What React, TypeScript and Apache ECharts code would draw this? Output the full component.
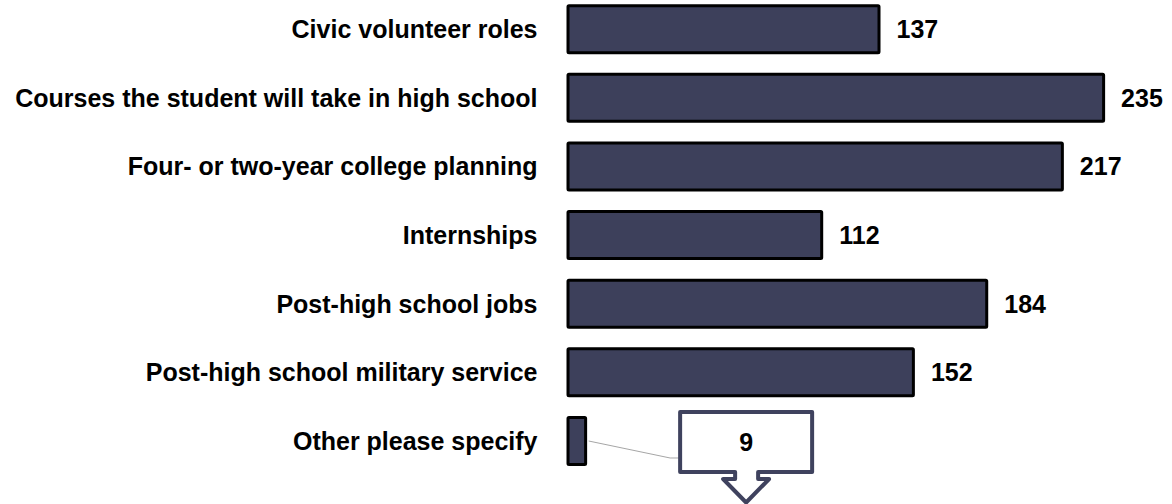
import React, { useEffect, useRef } from "react";
import * as echarts from "echarts";

const categories = [
  "Civic volunteer roles",
  "Courses the student will take in high school",
  "Four- or two-year college planning",
  "Internships",
  "Post-high school jobs",
  "Post-high school military service",
  "Other please specify",
];
const values = [137, 235, 217, 112, 184, 152, 9];
const calloutIndex = 6;

const FONT = "'Liberation Sans', Arial, sans-serif";

export default function App() {
  const ref = useRef<HTMLDivElement>(null);

  useEffect(() => {
    const chart = echarts.init(ref.current!, null, { renderer: "svg" });
    chart.setOption({
      animation: false,
      grid: { left: 566.5, right: 32.5, top: 0.9, bottom: 28.7, containLabel: false },
      xAxis: { type: "value", min: 0, max: 250, show: false },
      yAxis: {
        type: "category",
        data: categories,
        inverse: true,
        axisLine: { show: false },
        axisTick: { show: false },
        splitLine: { show: false },
        axisLabel: {
          margin: 29,
          color: "#000",
          fontSize: 25,
          fontWeight: "bold",
          fontFamily: FONT,
        },
      },
      series: [
        {
          type: "bar",
          barWidth: 50,
          data: values.map((v, i) => ({
            value: v,
            label: { show: i !== calloutIndex },
          })),
          itemStyle: {
            color: "#3d405b",
            borderColor: "#000",
            borderWidth: 3,
            borderRadius: 1,
          },
          label: {
            show: true,
            position: "right",
            distance: 16,
            color: "#000",
            fontSize: 25,
            fontWeight: "bold",
            fontFamily: FONT,
          },
        },
      ],
    });

    const p = chart.convertToPixel({ gridIndex: 0 }, [values[calloutIndex], calloutIndex]) as number[];
    const bx = p[0];
    const by = p[1];
    const stroke = "#3f425e";
    chart.setOption({
      graphic: [
        {
          type: "polyline",
          shape: {
            points: [
              [bx + 1.5, by],
              [bx + 83, by + 17],
              [bx + 93, by + 17],
            ],
          },
          style: { stroke: "#a6a6a6", lineWidth: 1, fill: null },
          z: 10,
        },
        {
          type: "polygon",
          shape: {
            points: [
              [bx + 93, by - 29],
              [bx + 225, by - 29],
              [bx + 225, by + 31],
              [bx + 171, by + 31],
              [bx + 171, by + 38],
              [bx + 182, by + 38],
              [bx + 159, by + 61.5],
              [bx + 136, by + 38],
              [bx + 148, by + 38],
              [bx + 148, by + 31],
              [bx + 93, by + 31],
            ],
          },
          style: { fill: "#fff", stroke, lineWidth: 4, lineJoin: "round" },
          z: 11,
        },
        {
          type: "text",
          x: bx + 159,
          y: by + 1,
          style: {
            text: String(values[calloutIndex]),
            fill: "#000",
            font: `bold 25px ${FONT}`,
            align: "center",
            verticalAlign: "middle",
          },
          z: 12,
        },
      ],
    });

    return () => chart.dispose();
  }, []);

  return (
    <div
      ref={ref}
      style={{ position: "fixed", left: 0, top: -6, width: 1172, height: 510, background: "#fff" }}
    />
  );
}
